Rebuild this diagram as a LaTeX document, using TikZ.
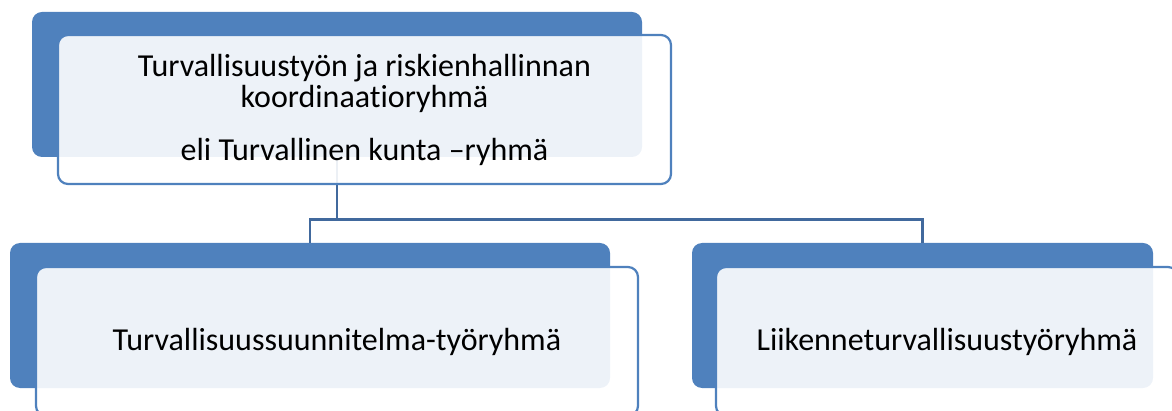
\documentclass[tikz,border=0pt]{standalone}
\usepackage{fontspec}
\setmainfont{Carlito}[Ligatures=NoCommon]
\definecolor{accent}{HTML}{4F81BD}
\definecolor{conn}{HTML}{41699D}
\begin{document}
\begin{tikzpicture}[x=1pt,y=-1pt,
  backbox/.style={draw=none,fill=accent,rounded corners=10pt,minimum width=#1,minimum height=145pt,inner sep=0pt,outer sep=0pt},
  frontbox/.style={draw=accent,line width=2.2pt,fill=white,fill opacity=0.9,text opacity=1,draw opacity=1,rounded corners=10pt,minimum width=#1,minimum height=149pt,inner sep=0pt,outer sep=0pt,align=center,font=\fontsize{32}{31}\selectfont},
  connline/.style={draw=conn,line width=2.6pt}]
\useasboundingbox (0,0) rectangle (1172,411);
\clip (0,0) rectangle (1172,411);
% back boxes
\node[backbox=610pt] (topb) at (337,84.5) {};
\node[backbox=600pt] (blb) at (310,315.5) {};
\node[backbox=461pt] (brb) at (922.5,315.5) {};
% connectors
\coordinate (j) at (337,219.5);
\draw[connline] (topb.south) -- (j);
\draw[connline] (blb.north) |- (j) -| (brb.north);
% front boxes
\node[frontbox=613pt] (topf) at (364.5,109.5) {\raisebox{-3pt}{\parbox{600pt}{\centering Turvallisuustyön ja riskienhallinnan\\koordinaatioryhmä\\[22pt]eli Turvallinen kunta –ryhmä}}};
\node[frontbox=602pt] (blf) at (337,341.5) {Turvallisuussuunnitelma-työryhmä};
\node[frontbox=462pt] (brf) at (947,341.5) {Liikenneturvallisuustyöryhmä};
\end{tikzpicture}
\end{document}
